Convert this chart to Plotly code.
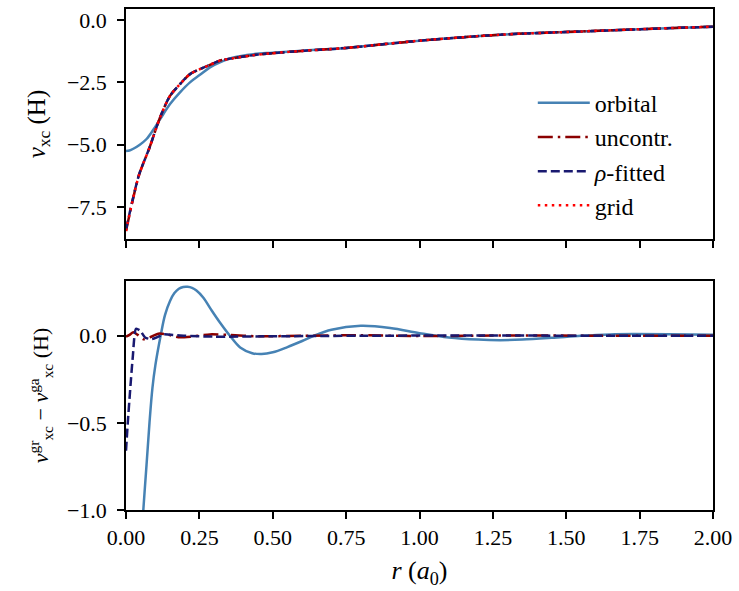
import plotly.graph_objects as go
from plotly.subplots import make_subplots

# ---------------- data ----------------
# top panel: v_xc (H)
r_orb_top = [0.0, 0.012, 0.025, 0.047, 0.07, 0.093, 0.116, 0.15, 0.184, 0.218, 0.252, 0.286,
             0.32, 0.366, 0.434, 0.5, 0.6, 0.75, 1.0, 1.275, 1.55, 1.82, 2.0]
v_orb_top = [-5.25, -5.23, -5.16, -5.0, -4.77, -4.40, -3.98, -3.37, -2.9, -2.5, -2.2, -1.9,
             -1.70, -1.50, -1.37, -1.31, -1.23, -1.12, -0.83, -0.59, -0.46, -0.34, -0.27]

r_fit_top = [0.0, 0.022, 0.045, 0.08, 0.116, 0.15, 0.184, 0.218, 0.252, 0.286, 0.32, 0.366,
             0.434, 0.5, 0.6, 0.75, 1.0, 1.275, 1.55, 1.82, 2.0]
v_unc_top = [-8.46, -7.26, -6.19, -5.12, -3.91, -3.04, -2.57, -2.17, -1.97, -1.80, -1.63, -1.53,
             -1.41, -1.33, -1.24, -1.12, -0.83, -0.59, -0.46, -0.34, -0.27]
v_rho_top = [-8.40, -7.24, -6.18, -5.12, -3.91, -3.04, -2.57, -2.17, -1.97, -1.80, -1.63, -1.53,
             -1.41, -1.33, -1.24, -1.12, -0.83, -0.59, -0.46, -0.34, -0.27]
v_grid_top = [-8.46, -7.26, -6.19, -5.12, -3.91, -3.04, -2.57, -2.17, -1.97, -1.80, -1.63, -1.53,
              -1.41, -1.33, -1.24, -1.12, -0.83, -0.59, -0.46, -0.34, -0.27]

# bottom panel: v_xc^gr - v_xc^ga (H)
r_orb_bot = [0.05, 0.059, 0.07, 0.08, 0.09, 0.1, 0.118, 0.133, 0.15, 0.165, 0.18, 0.195, 0.21,
             0.225, 0.24, 0.263, 0.29, 0.32, 0.354, 0.389, 0.43, 0.462, 0.5, 0.55, 0.6, 0.64,
             0.7, 0.8, 0.9, 1.0, 1.1, 1.2, 1.275, 1.35, 1.45, 1.55, 1.65, 1.73, 1.85, 2.0]
v_orb_bot = [-1.25, -1.0, -0.74, -0.5, -0.3, -0.17, 0.0, 0.12, 0.20, 0.245, 0.27, 0.28, 0.281,
             0.275, 0.26, 0.22, 0.15, 0.076, 0.0, -0.067, -0.1, -0.105, -0.095, -0.065, -0.03,
             0.0, 0.035, 0.057, 0.045, 0.015, -0.01, -0.022, -0.025, -0.022, -0.012, 0.0,
             0.008, 0.01, 0.009, 0.006]

r_unc_bot = [0.0, 0.012, 0.025, 0.04, 0.059, 0.08, 0.11, 0.14, 0.178, 0.22, 0.286, 0.35, 0.45,
             0.6, 0.8, 1.0, 1.3, 1.6, 2.0]
v_unc_bot = [-0.005, 0.005, 0.02, 0.005, -0.02, -0.01, 0.012, 0.008, -0.008, -0.005, 0.008,
             0.005, -0.003, 0.0, 0.003, -0.002, 0.002, 0.0, 0.0]

r_rho_bot = [0.0, 0.006, 0.014, 0.023, 0.034, 0.048, 0.065, 0.088, 0.11, 0.127, 0.16, 0.2, 0.3,
             0.5, 0.8, 1.2, 1.6, 2.0]
v_rho_bot = [-0.66, -0.5, -0.315, -0.124, 0.04, 0.03, -0.01, -0.019, -0.005, 0.008, 0.005, 0.0,
             -0.005, -0.003, 0.0, 0.002, 0.0, 0.0]

x_ticks = [0.0, 0.25, 0.5, 0.75, 1.0, 1.25, 1.5, 1.75, 2.0]

# ---------------- styles ----------------
FONT = "Liberation Serif"
C_ORB = "#4682B4"
C_UNC = "#8B0000"
C_RHO = "#191970"
C_GRID = "#FF0000"
LW = 2.5

fig = make_subplots(rows=2, cols=1, shared_xaxes=False, vertical_spacing=0.0)

def add(x, y, name, color, dash, row, show, group, smooth):
    fig.add_trace(go.Scatter(x=x, y=y, mode="lines", name=name, legendgroup=group,
                             showlegend=show,
                             line=dict(color=color, width=LW, dash=dash, shape="spline",
                                       smoothing=smooth)),
                  row=row, col=1)

D_UNC = "15px,5px,2.5px,5px"
D_RHO = "9px,4px"
D_GRID = "2.5px,4.5px"

add(r_orb_top, v_orb_top, "orbital", C_ORB, "solid", 1, True, "a", 1.0)
add(r_fit_top, v_unc_top, "uncontr.", C_UNC, D_UNC, 1, True, "b", 0.8)
add(r_fit_top, v_rho_top, "<i>ρ</i>-fitted", C_RHO, D_RHO, 1, True, "c", 0.8)
add(r_fit_top, v_grid_top, "grid", C_GRID, D_GRID, 1, True, "d", 0.8)

add(r_orb_bot, v_orb_bot, "orbital", C_ORB, "solid", 2, False, "a", 1.0)
add(r_unc_bot, v_unc_bot, "uncontr.", C_UNC, D_UNC, 2, False, "b", 0.6)
add(r_rho_bot, v_rho_bot, "<i>ρ</i>-fitted", C_RHO, D_RHO, 2, False, "c", 0.6)

axis_common = dict(showgrid=False, zeroline=False, showline=True, linecolor="black",
                   linewidth=1.6, mirror=True, ticks="outside", ticklen=7, tickwidth=1.6,
                   tickcolor="black", tickfont=dict(family=FONT, size=22, color="black"))

fig.update_xaxes(**axis_common, range=[0, 2], tickvals=x_ticks)
fig.update_xaxes(showticklabels=False, row=1, col=1)
fig.update_xaxes(tickformat=".2f", row=2, col=1,
                 title=dict(text="<i>r</i> (<i>a</i><sub>0</sub>)",
                            font=dict(family=FONT, size=26, color="black"), standoff=12))
fig.update_yaxes(**axis_common, ticklabelstandoff=6)
fig.update_yaxes(range=[-8.78, 0.44], tickvals=[0.0, -2.5, -5.0, -7.5], tickformat=".1f",
                 title=dict(text="<i>v</i><sub>xc</sub> (H)",
                            font=dict(family=FONT, size=25, color="black"), standoff=14),
                 row=1, col=1)
fig.update_yaxes(range=[-1.0, 0.315], tickvals=[0.0, -0.5, -1.0], tickformat=".1f",
                 title=dict(text="<i>v</i><sup>gr</sup><sub>xc</sub> − <i>v</i><sup>ga</sup><sub>xc</sub> (H)",
                            font=dict(family=FONT, size=22, color="black"), standoff=12),
                 row=2, col=1)

fig.update_layout(
    width=739, height=591,
    margin=dict(l=126, r=26, t=7, b=81),
    paper_bgcolor="white", plot_bgcolor="white",
    font=dict(family=FONT, size=22, color="black"),
    legend=dict(x=0.693, y=0.857, xanchor="left", yanchor="top",
                bgcolor="rgba(0,0,0,0)", borderwidth=0,
                font=dict(family=FONT, size=24, color="black"),
                traceorder="grouped", tracegroupgap=0, itemwidth=52),
)
fig.layout.yaxis.domain = [0.5408, 1.0]
fig.layout.yaxis2.domain = [0.0, 0.4573]

fig.write_html("out.html")
